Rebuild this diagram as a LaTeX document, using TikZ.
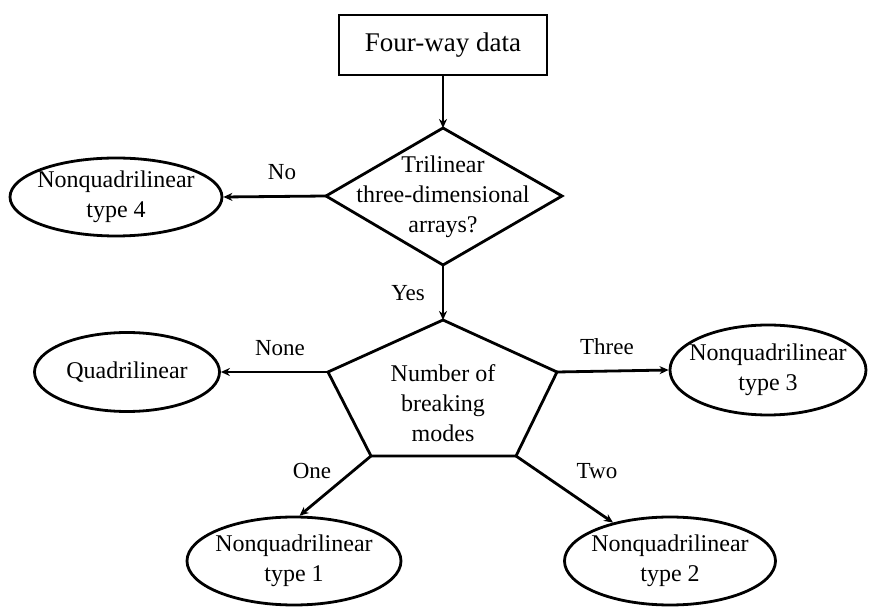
\documentclass[tikz,border=0pt]{standalone}
\usepackage{fontspec}
\setmainfont{Liberation Serif}
\usetikzlibrary{shapes.geometric,arrows.meta}
\begin{document}
\begin{tikzpicture}[x=0.5pt,y=-0.5pt, line width=1.4pt,
  txt/.style={font=\fontsize{12}{15}\selectfont, align=center},
  ell/.style={ellipse, draw, inner sep=0pt},
  arr/.style={-{Stealth[length=4.5pt,width=4pt]}},
  lbl/.style={font=\fontsize{11.5}{14}\selectfont}]
\useasboundingbox (0,0) rectangle (869,609);
% top box
\node[draw, minimum width=104pt, minimum height=30pt, font=\fontsize{13.5}{16}\selectfont] (data) at (443,45) {Four-way data};
% diamond
\coordinate (tT) at (443,128);
\coordinate (tR) at (562,196);
\coordinate (tB) at (443,265);
\coordinate (tL) at (326,196);
\draw (tT) -- (tR) -- (tB) -- (tL) -- cycle;
\node[txt] (tri) at (443,197) {Trilinear\\three-dimensional\\arrays?};
% pentagon
\coordinate (pT) at (443,320);
\coordinate (pR) at (557,372);
\coordinate (pBR) at (516,456);
\coordinate (pBL) at (371,456);
\coordinate (pL) at (328,372);
\draw (pT) -- (pR) -- (pBR) -- (pBL) -- (pL) -- cycle;
\node[txt] (num) at (443,403) {Number of\\breaking\\modes};
% ellipses
\node[ell, minimum width=106pt, minimum height=39pt, label={[txt]center:{Nonquadrilinear\\type 4}}] (e4) at (116,197) {};
\node[ell, minimum width=92.5pt, minimum height=39.5pt, label={[txt]center:{Quadrilinear}}] (eq) at (127,372) {};
\node[ell, minimum width=98pt, minimum height=45pt, label={[txt]center:{Nonquadrilinear\\type 3}}] (e3) at (768,370) {};
\node[ell, minimum width=107pt, minimum height=44pt, label={[txt]center:{Nonquadrilinear\\type 1}}] (e1) at (294,561) {};
\node[ell, minimum width=105.5pt, minimum height=44pt, label={[txt]center:{Nonquadrilinear\\type 2}}] (e2) at (670,561) {};
% connectors
\draw[arr] (data) -- (tT);
\draw[arr] (tL) -- (e4.east);
\draw[arr] (tB) -- (pT);
\draw[arr] (pL) -- (eq.east);
\draw[arr] (pR) -- (e3.west);
\draw[arr] (pBL) -- (e1.83);
\draw[arr] (pBR) -- (e2.146);
% labels
\node[lbl] (lno) at (282,172) {No};
\node[lbl] (lyes) at (408,293) {Yes};
\node[lbl] (lnone) at (280,348) {None};
\node[lbl] (lthree) at (607,347) {Three};
\node[lbl] (lone) at (312,471) {One};
\node[lbl] (ltwo) at (597,471) {Two};
\end{tikzpicture}
\end{document}
